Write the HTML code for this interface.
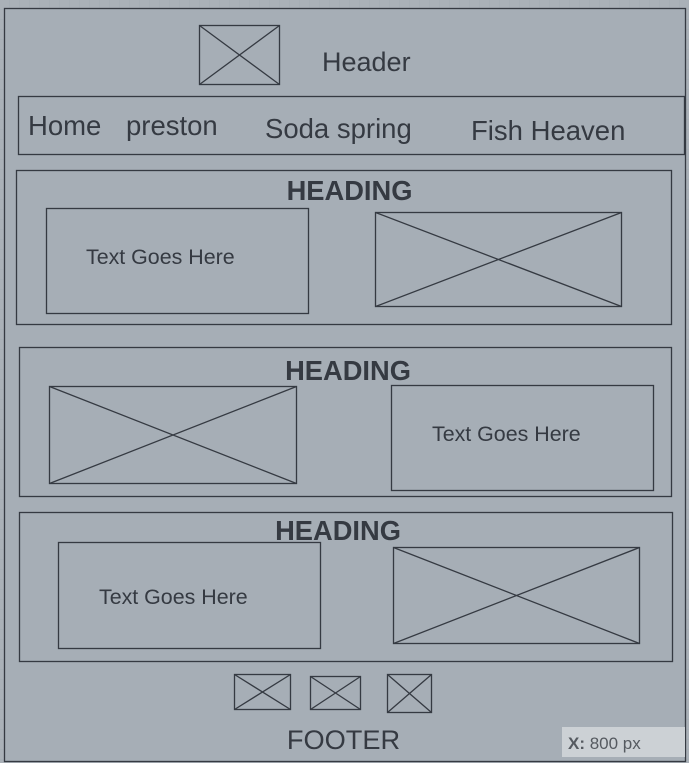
<!DOCTYPE html>
<html><head><meta charset="utf-8"><style>
html,body{margin:0;padding:0;width:689px;height:763px;overflow:hidden;background:#a9b0b7}
svg{display:block}
text{font-family:"Liberation Sans",sans-serif;fill:#353a42}
</style></head><body>
<svg width="689" height="763" viewBox="0 0 689 763" xmlns="http://www.w3.org/2000/svg">
<defs>
<pattern id="grid" width="10" height="10" patternUnits="userSpaceOnUse"><path d="M10 0V10H0" fill="none" stroke="#9ea6ae" stroke-width="1"/></pattern>
</defs>
<rect width="689" height="763" fill="#aab1b8"/>
<rect width="689" height="763" fill="url(#grid)" opacity="0.6"/>
<g fill="none" stroke="#353a42" stroke-width="1.3">
<rect x="4.5" y="8.5" width="681" height="753" fill="#a6aeb6"/>
<g><rect x="199.5" y="25.5" width="80" height="59"/><path d="M199.5 25.5L279.5 84.5M279.5 25.5L199.5 84.5"/></g>
<rect x="18.5" y="96.5" width="666" height="58"/>
<rect x="16.5" y="170.5" width="655" height="154"/>
<rect x="46.5" y="208.5" width="262" height="105"/>
<g><rect x="375.5" y="212.5" width="246" height="94"/><path d="M375.5 212.5L621.5 306.5M621.5 212.5L375.5 306.5"/></g>
<rect x="19.5" y="347.5" width="652" height="149"/>
<g><rect x="49.5" y="386.5" width="247" height="97"/><path d="M49.5 386.5L296.5 483.5M296.5 386.5L49.5 483.5"/></g>
<rect x="391.5" y="385.5" width="262" height="105"/>
<rect x="19.5" y="512.5" width="653" height="149"/>
<rect x="58.5" y="542.5" width="262" height="106"/>
<g><rect x="393.5" y="547.5" width="246" height="96"/><path d="M393.5 547.5L639.5 643.5M639.5 547.5L393.5 643.5"/></g>
<g><rect x="234.5" y="674.5" width="56" height="35"/><path d="M234.5 674.5L290.5 709.5M290.5 674.5L234.5 709.5"/></g>
<g><rect x="310.5" y="676.5" width="50" height="33"/><path d="M310.5 676.5L360.5 709.5M360.5 676.5L310.5 709.5"/></g>
<g><rect x="387.5" y="674.5" width="44" height="38"/><path d="M387.5 674.5L431.5 712.5M431.5 674.5L387.5 712.5"/></g>
</g>
<text x="322" y="71" font-size="27">Header</text>
<text x="28" y="135" font-size="27.5">Home</text>
<text x="126" y="135" font-size="27.5">preston</text>
<text x="265" y="138" font-size="27.5">Soda spring</text>
<text x="471" y="140" font-size="27.5">Fish Heaven</text>
<text x="349.5" y="200" font-size="27.3" font-weight="bold" text-anchor="middle">HEADING</text>
<text x="86" y="264" font-size="21.4">Text Goes Here</text>
<text x="348" y="380" font-size="27.3" font-weight="bold" text-anchor="middle">HEADING</text>
<text x="432" y="441" font-size="21.4">Text Goes Here</text>
<text x="338" y="540" font-size="27.3" font-weight="bold" text-anchor="middle">HEADING</text>
<text x="99" y="604" font-size="21.4">Text Goes Here</text>
<text x="343.5" y="749" font-size="27.2" text-anchor="middle">FOOTER</text>
<g>
<rect x="562" y="727" width="123" height="30" fill="#ccd1d5"/>
<text x="568" y="749" font-size="17" fill="#555a60" style="fill:#555a60"><tspan font-weight="bold">X:</tspan> 800 px</text>
</g>
</svg>
</body></html>
